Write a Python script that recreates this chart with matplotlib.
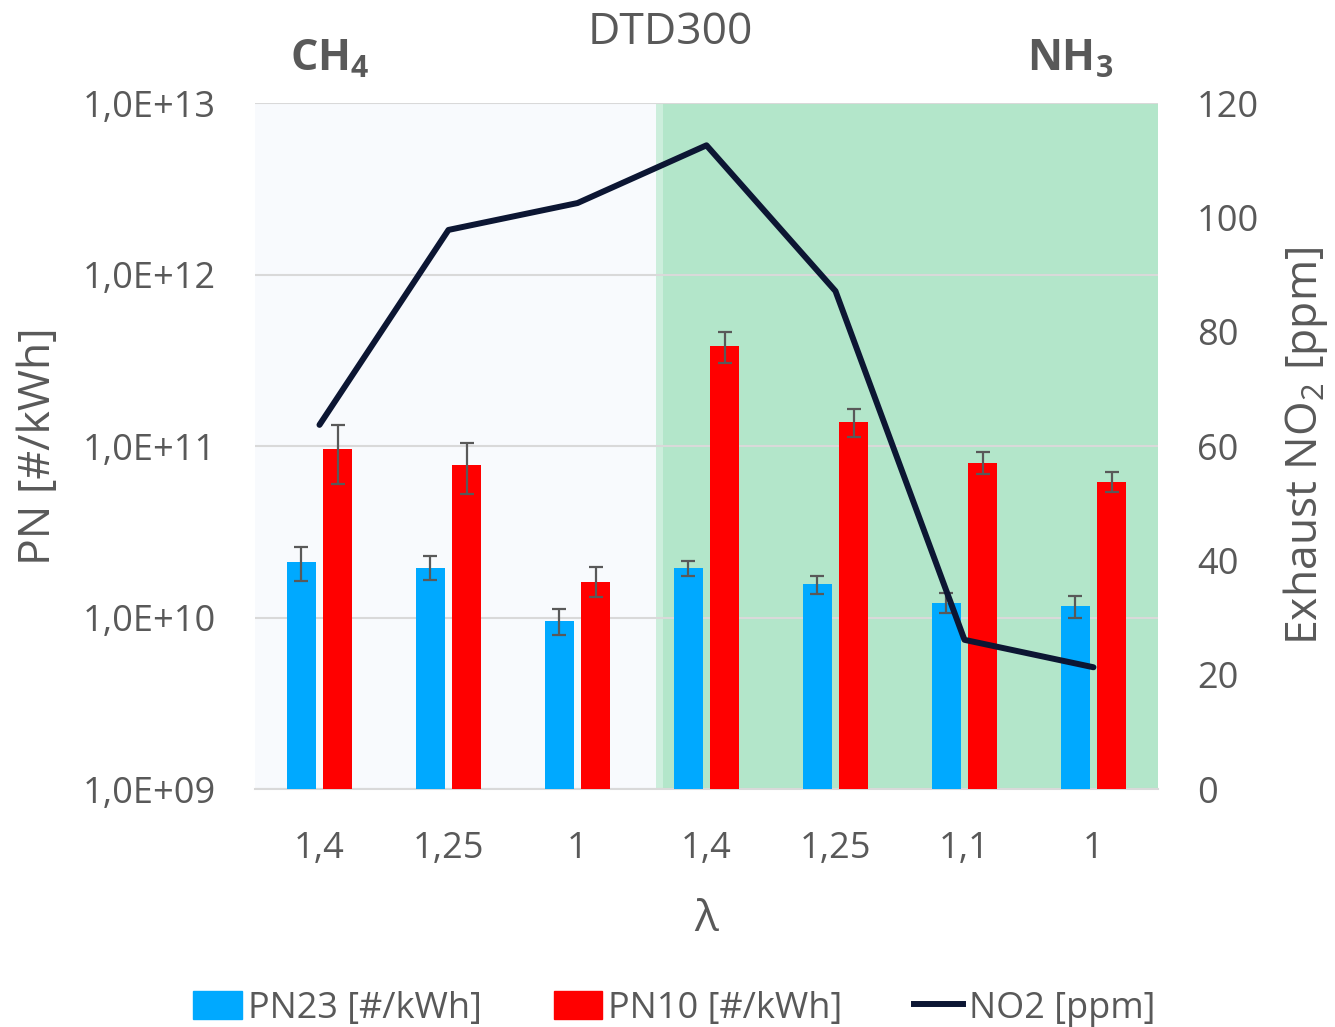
import matplotlib
matplotlib.use("Agg")
import matplotlib.pyplot as plt
from matplotlib.patches import Patch
from matplotlib.lines import Line2D
import numpy as np

plt.rcParams['font.family'] = ['Open Sans', 'DejaVu Sans']
plt.rcParams['mathtext.fontset'] = 'custom'
plt.rcParams['mathtext.rm'] = 'Open Sans'
plt.rcParams['mathtext.it'] = 'Open Sans:italic'
plt.rcParams['mathtext.bf'] = 'Open Sans:bold'

lambdas = ["1,4", "1,25", "1", "1,4", "1,25", "1,1", "1"]

pn23 = [2.10e10, 1.95e10, 9.57e9, 1.94e10, 1.56e10, 1.22e10, 1.17e10]
pn23_lo = [1.64e10, 1.66e10, 7.86e9, 1.75e10, 1.37e10, 1.06e10, 1.00e10]
pn23_hi = [2.58e10, 2.27e10, 1.12e10, 2.15e10, 1.75e10, 1.39e10, 1.34e10]

pn10 = [9.57e10, 7.75e10, 1.62e10, 3.82e11, 1.385e11, 7.99e10, 6.17e10]
pn10_lo = [5.98e10, 5.23e10, 1.315e10, 3.06e11, 1.133e11, 6.87e10, 5.40e10]
pn10_hi = [1.325e11, 1.037e11, 1.96e10, 4.61e11, 1.643e11, 9.19e10, 7.03e10]

no2 = [63.7, 97.8, 102.5, 112.6, 87.1, 26.1, 21.3]

grey = "#595959"
blue = "#00A9FF"
red = "#FF0000"
navy = "#0C1633"

fig = plt.figure(figsize=(13.35, 10.27), dpi=100)
ax = fig.add_axes([0.191, 0.2317, 0.6764, 0.668])

x = np.arange(len(lambdas))
w = 0.227
off = 0.142

# background regions: CH4 (left) and NH3 (right)
ax.axvspan(-0.5, 2.61, color="#F8FAFD", zorder=0, lw=0)
ax.axvspan(2.61, 2.66, color="#CCEEDC", zorder=0, lw=0)
ax.axvspan(2.66, 6.5, color="#B3E6CA", zorder=0, lw=0)

ax.bar(x - off, pn23, w, color=blue, zorder=3)
ax.bar(x + off, pn10, w, color=red, zorder=3)

e23 = [np.array(pn23) - np.array(pn23_lo), np.array(pn23_hi) - np.array(pn23)]
e10 = [np.array(pn10) - np.array(pn10_lo), np.array(pn10_hi) - np.array(pn10)]
ax.errorbar(x - off, pn23, yerr=e23, fmt="none", ecolor=grey, elinewidth=1.6,
            capsize=5, capthick=1.6, zorder=4)
ax.errorbar(x + off, pn10, yerr=e10, fmt="none", ecolor=grey, elinewidth=1.6,
            capsize=5, capthick=1.6, zorder=4)

ax.set_yscale("log")
ax.set_ylim(1e9, 1e13)
ax.set_xlim(-0.5, 6.5)
ax.set_yticks([1e9, 1e10, 1e11, 1e12, 1e13])
ax.set_yticklabels(["1,0E+09", "1,0E+10", "1,0E+11", "1,0E+12", "1,0E+13"])
ax.minorticks_off()
ax.set_xticks(x)
ax.set_xticklabels(lambdas)
ax.grid(axis="y", color="#D9D9D9", lw=1.5, zorder=1)
ax.set_axisbelow(True)
for s in ["left", "right", "top"]:
    ax.spines[s].set_visible(False)
ax.spines["bottom"].set_color("#D9D9D9")
ax.spines["bottom"].set_linewidth(1.5)
ax.tick_params(axis="both", length=0, labelsize=26, colors=grey)
ax.tick_params(axis="y", pad=28)
ax.tick_params(axis="x", pad=30)
ax.set_ylabel("PN [#/kWh]", fontsize=32, color=grey, labelpad=16)
ax.set_xlabel("λ", fontsize=32, color=grey, labelpad=22)

ax2 = ax.twinx()
ax2.plot(x, no2, color=navy, lw=4.3, solid_capstyle="round", zorder=5)
ax2.set_ylim(0, 120)
ax2.set_yticks(range(0, 121, 20))
for s in ["left", "right", "top", "bottom"]:
    ax2.spines[s].set_visible(False)
ax2.tick_params(axis="y", length=0, labelsize=26, colors=grey, pad=28)
ax2.set_ylabel("Exhaust NO$_2$ [ppm]", fontsize=32, color=grey, labelpad=16)

fig.text(0.502, 0.968, "DTD300", fontsize=32, color=grey, ha="center", va="center")
fig.text(0.247, 0.942, r"$\mathbf{CH_4}$", fontsize=31, color=grey, ha="center", va="center")
fig.text(0.802, 0.942, r"$\mathbf{NH_3}$", fontsize=31, color=grey, ha="center", va="center")

handles = [Patch(color=blue), Patch(color=red), Line2D([0], [0], color=navy, lw=4.3)]
fig.legend(handles, ["PN23 [#/kWh]", "PN10 [#/kWh]", "NO2 [ppm]"], loc="center",
           bbox_to_anchor=(0.505, 0.018), ncol=3, frameon=False, fontsize=26,
           labelcolor=grey, handlelength=1.35, handleheight=0.85, handletextpad=0.15,
           columnspacing=2.0)

fig.savefig("out.png", dpi=100)
